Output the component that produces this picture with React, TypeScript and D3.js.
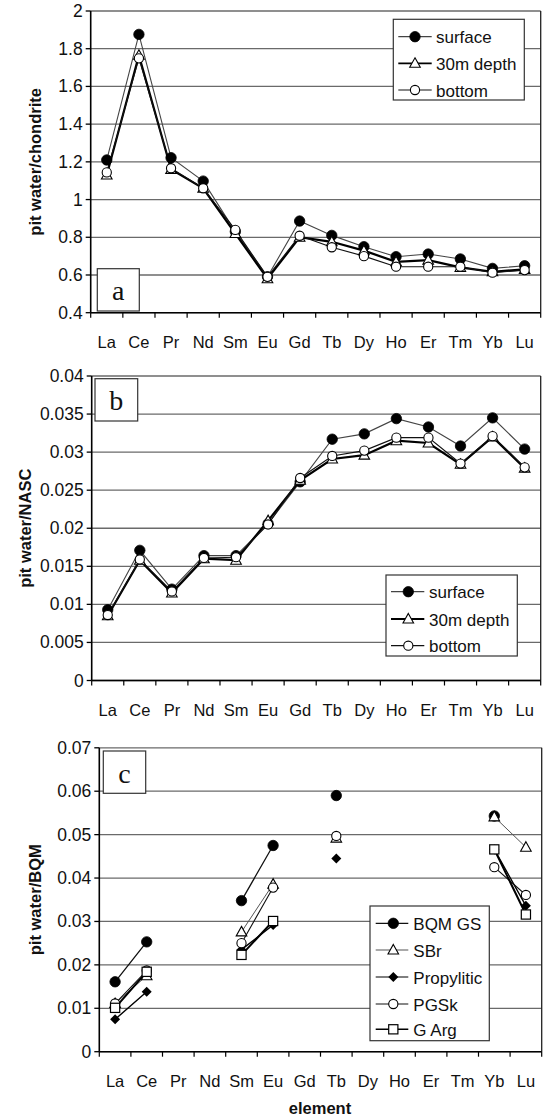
import React from 'react';
import * as d3 from 'd3';

const elements = ['La', 'Ce', 'Pr', 'Nd', 'Sm', 'Eu', 'Gd', 'Tb', 'Dy', 'Ho', 'Er', 'Tm', 'Yb', 'Lu'];

// Panel a: pit water / chondrite
const aSurface = [1.21, 1.876, 1.222, 1.098, 0.83, 0.591, 0.886, 0.81, 0.75, 0.697, 0.711, 0.685, 0.635, 0.649];
const a30m = [1.13, 1.765, 1.16, 1.06, 0.82, 0.58, 0.80, 0.776, 0.729, 0.67, 0.679, 0.64, 0.617, 0.63];
const aBottom = [1.144, 1.749, 1.166, 1.06, 0.839, 0.59, 0.808, 0.747, 0.70, 0.644, 0.644, 0.644, 0.612, 0.626];
const aTicks = [0.4, 0.6, 0.8, 1, 1.2, 1.4, 1.6, 1.8, 2];

// Panel b: pit water / NASC
const bSurface = [0.0093, 0.0171, 0.0120, 0.0164, 0.0164, 0.0206, 0.0261, 0.0317, 0.0324, 0.0344, 0.0333, 0.0308, 0.0345, 0.0304];
const b30m = [0.0085, 0.0158, 0.0115, 0.0160, 0.0158, 0.0210, 0.0263, 0.0291, 0.0296, 0.0315, 0.0312, 0.0284, 0.0320, 0.0279];
const bBottom = [0.0086, 0.0159, 0.0117, 0.0161, 0.0162, 0.0205, 0.0266, 0.0295, 0.0302, 0.0319, 0.0319, 0.0285, 0.0321, 0.0280];
const bTicks = [0, 0.005, 0.01, 0.015, 0.02, 0.025, 0.03, 0.035, 0.04];

// Panel c: pit water / BQM (null = not measured)
const cBQMGS = [0.0161, 0.0253, null, null, 0.0348, 0.0475, null, 0.059, null, null, null, null, 0.0543, null];
const cSBr = [0.0111, 0.0175, null, null, 0.0276, 0.0386, null, 0.0492, null, null, null, null, 0.0541, 0.0471];
const cPropylitic = [0.00745, 0.0138, null, null, 0.0235, 0.0292, null, 0.0445, null, null, null, null, 0.0466, 0.0336];
const cPGSk = [0.0111, 0.0187, null, null, 0.025, 0.0378, null, 0.0497, null, null, null, null, 0.0425, 0.0361];
const cGArg = [0.0101, 0.0184, null, null, 0.0223, 0.0301, null, null, null, null, null, null, 0.0466, 0.0316];
const cTicks = [0, 0.01, 0.02, 0.03, 0.04, 0.05, 0.06, 0.07];

const FONT = '"Liberation Sans", Arial, Helvetica, sans-serif';
const SERIF = '"Liberation Serif", "Times New Roman", serif';

type Shape = 'filledCircle' | 'openCircle' | 'triangle' | 'diamond' | 'square';

function Marker({ shape, x, y }: { shape: Shape; x: number; y: number }) {
  switch (shape) {
    case 'filledCircle':
      return <circle cx={x} cy={y} r={5.2} fill="#000" stroke="#000" strokeWidth={0.8} />;
    case 'openCircle':
      return <circle cx={x} cy={y} r={4.6} fill="#fff" stroke="#000" strokeWidth={1.1} />;
    case 'triangle':
      return <path d={`M${x},${y - 5.5}L${x + 5.3},${y + 4}L${x - 5.3},${y + 4}Z`} fill="#fff" stroke="#000" strokeWidth={1.1} />;
    case 'diamond':
      return <path d={`M${x},${y - 5}L${x + 5},${y}L${x},${y + 5}L${x - 5},${y}Z`} fill="#000" />;
    case 'square':
      return <rect x={x - 4.6} y={y - 4.6} width={9.2} height={9.2} fill="#fff" stroke="#000" strokeWidth={1.2} />;
  }
}

type Series = { name: string; values: (number | null)[]; shape: Shape; stroke: string; width: number };

type PanelProps = {
  left: number; right: number; top: number; bottom: number;
  domain: [number, number]; ticks: number[];
  series: Series[];
  yTitle: string; titleX: number;
  letter: string; letterBox: [number, number, number, number];
  legend: { x0: number; x1: number; y0: number; y1: number; rows: number[]; lx1: number; lx2: number; mx: number; tx: number; fs: number };
};

function Panel(p: PanelProps) {
  const x = d3.scaleBand<string>().domain(elements).range([p.left, p.right]).padding(0);
  const y = d3.scaleLinear().domain(p.domain).range([p.bottom, p.top]);
  const bw = x.bandwidth();
  const cx = (e: string) => (x(e) as number) + bw / 2;
  const line = d3.line<number | null>()
    .defined((d) => d !== null)
    .x((_, i) => cx(elements[i]))
    .y((d) => y(d as number));
  const boundaries = elements.map((e) => x(e) as number).concat([p.right]);
  const [bx0, by0, bx1, by1] = p.letterBox;
  const L = p.legend;
  return (
    <g>
      {p.ticks.map((t) => (
        <g key={t}>
          <line x1={p.left} x2={p.right} y1={y(t)} y2={y(t)} stroke="#6a6a6a" strokeWidth={1.3} />
          <line x1={p.left - 5} x2={p.left} y1={y(t)} y2={y(t)} stroke="#000" strokeWidth={1.3} />
          <text x={p.left - 8} y={y(t)} textAnchor="end" dominantBaseline="central" fontSize={17.5} fontFamily={FONT} fill="#111">
            {String(t)}
          </text>
        </g>
      ))}
      <line x1={p.right} x2={p.right} y1={p.top} y2={p.bottom} stroke="#222" strokeWidth={1.3} />
      <line x1={p.left} x2={p.left} y1={p.top} y2={p.bottom} stroke="#000" strokeWidth={1.6} />
      <line x1={p.left} x2={p.right} y1={p.bottom} y2={p.bottom} stroke="#000" strokeWidth={1.6} />
      {boundaries.map((b, i) => (
        <line key={i} x1={b} x2={b} y1={p.bottom} y2={p.bottom + 5} stroke="#000" strokeWidth={1.2} />
      ))}
      {elements.map((e) => (
        <text key={e} x={cx(e)} y={p.bottom + 29} textAnchor="middle" dominantBaseline="central" fontSize={16.5} fontFamily={FONT} fill="#111">
          {e}
        </text>
      ))}
      <text
        transform={`translate(${p.titleX},${(p.top + p.bottom) / 2}) rotate(-90)`}
        textAnchor="middle" dominantBaseline="central" fontSize={16.5} fontWeight="bold" fontFamily={FONT} fill="#111"
      >
        {p.yTitle}
      </text>
      {p.series.map((s) => (
        <path key={s.name + 'l'} d={line(s.values) || ''} fill="none" stroke={s.stroke} strokeWidth={s.width} />
      ))}
      {p.series.map((s) => (
        <g key={s.name + 'm'}>
          {s.values.map((v, i) => (v === null ? null : <Marker key={i} shape={s.shape} x={cx(elements[i])} y={y(v)} />))}
        </g>
      ))}
      <rect x={bx0} y={by0} width={bx1 - bx0} height={by1 - by0} fill="#fff" stroke="#333" strokeWidth={1.2} />
      <text x={(bx0 + bx1) / 2} y={(by0 + by1) / 2 + 1} textAnchor="middle" dominantBaseline="central" fontSize={28} fontFamily={SERIF} fill="#111">
        {p.letter}
      </text>
      <rect x={L.x0} y={L.y0} width={L.x1 - L.x0} height={L.y1 - L.y0} fill="#fff" stroke="#333" strokeWidth={1.2} />
      {p.series.map((s, i) => (
        <g key={s.name + 'g'}>
          <line x1={L.lx1} x2={L.lx2} y1={L.rows[i]} y2={L.rows[i]} stroke={s.stroke} strokeWidth={Math.max(1.2, s.width * 0.8)} />
          <Marker shape={s.shape} x={L.mx} y={L.rows[i]} />
          <text x={L.tx} y={L.rows[i] + 1} dominantBaseline="central" fontSize={L.fs} fontFamily={FONT} fill="#111">
            {s.name}
          </text>
        </g>
      ))}
    </g>
  );
}

export default function App() {
  const abSeries = (s: number[], m: number[], b: number[]): Series[] => [
    { name: 'surface', values: s, shape: 'filledCircle', stroke: '#444', width: 1.1 },
    { name: '30m depth', values: m, shape: 'triangle', stroke: '#000', width: 2.2 },
    { name: 'bottom', values: b, shape: 'openCircle', stroke: '#111', width: 1.1 },
  ];
  const cSeries: Series[] = [
    { name: 'BQM GS', values: cBQMGS, shape: 'filledCircle', stroke: '#111', width: 1.3 },
    { name: 'SBr', values: cSBr, shape: 'triangle', stroke: '#555', width: 1 },
    { name: 'Propylitic', values: cPropylitic, shape: 'diamond', stroke: '#000', width: 1.4 },
    { name: 'PGSk', values: cPGSk, shape: 'openCircle', stroke: '#111', width: 1.1 },
    { name: 'G Arg', values: cGArg, shape: 'square', stroke: '#000', width: 2 },
  ];
  return (
    <svg width={545} height={1117} style={{ position: 'absolute', left: 0, top: 0, background: '#fff' }}>
      <rect x={0} y={0} width={545} height={1117} fill="#fff" />
      <Panel
        left={90.7} right={540.7} top={11} bottom={312.7}
        domain={[0.4, 2]} ticks={aTicks}
        series={abSeries(aSurface, a30m, aBottom)}
        yTitle="pit water/chondrite" titleX={35}
        letter="a" letterBox={[97.3, 268.7, 139.3, 311]}
        legend={{ x0: 393.3, x1: 524.3, y0: 19.3, y1: 100, rows: [36.7, 63.3, 90], lx1: 398.3, lx2: 431.7, mx: 415, tx: 436, fs: 17 }}
      />
      <Panel
        left={91.7} right={540.7} top={376} bottom={680.5}
        domain={[0, 0.04]} ticks={bTicks}
        series={abSeries(bSurface, b30m, bBottom)}
        yTitle="pit water/NASC" titleX={24.5}
        letter="b" letterBox={[95, 378.7, 137.7, 421]}
        legend={{ x0: 386, x1: 517.3, y0: 575, y1: 656, rows: [591.7, 619, 645.7], lx1: 391, lx2: 424.3, mx: 408.3, tx: 429, fs: 17 }}
      />
      <Panel
        left={99.3} right={541.7} top={747.8} bottom={1051.7}
        domain={[0, 0.07]} ticks={cTicks}
        series={cSeries}
        yTitle="pit water/BQM" titleX={35}
        letter="c" letterBox={[103.3, 751, 145.7, 793.3]}
        legend={{ x0: 370, x1: 489.3, y0: 906, y1: 1040.7, rows: [923.3, 950, 977, 1004, 1029.3], lx1: 375.7, lx2: 408.3, mx: 393.3, tx: 413.3, fs: 17 }}
      />
      <text x={320} y={1108} textAnchor="middle" dominantBaseline="central" fontSize={16.5} fontWeight="bold" fontFamily={FONT} fill="#111">
        element
      </text>
    </svg>
  );
}
